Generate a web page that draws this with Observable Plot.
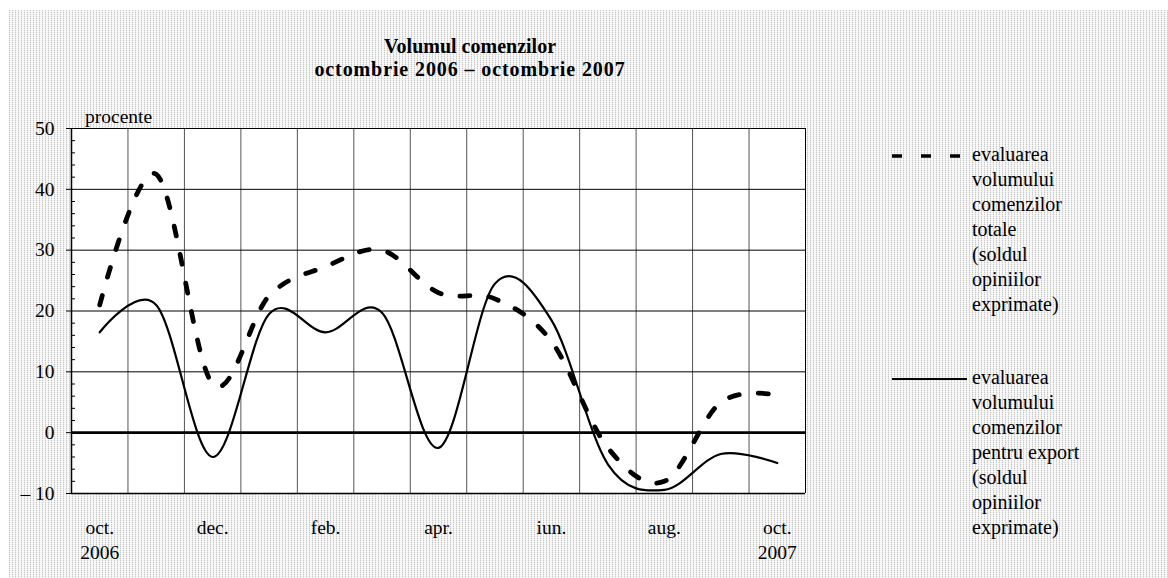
<!DOCTYPE html>
<html>
<head>
<meta charset="utf-8">
<script src="https://cdn.jsdelivr.net/npm/d3@7"></script>
<script src="https://cdn.jsdelivr.net/npm/@observablehq/plot@0.6"></script>
<style>
  html, body { margin: 0; padding: 0; background: #fff; }
  #wrap { position: relative; width: 1168px; height: 578px; overflow: hidden; font-family: "Liberation Serif", "Times New Roman", serif; color: #000; }
  #bg { position: absolute; left: 9px; top: 10px; right: 0; bottom: 0;
        background-color: #fff;
        background-image:
          repeating-linear-gradient(0deg, rgba(255,255,255,0.55) 0 1px, transparent 1px 2px),
          repeating-linear-gradient(90deg, #c9c9c9 0 1px, #f4f4f4 1px 3px); }
  #chart { position: absolute; left: 0; top: 0; }
  .title { position: absolute; left: 220px; width: 500px; text-align: center; font-weight: bold; font-size: 20px; line-height: 23px; top: 35px; }
  .title .l2 { letter-spacing: 0.9px; }
  .unit { position: absolute; left: 85px; top: 107px; font-size: 19.5px; line-height: 20px; }
  .leg { position: absolute; left: 892px; font-size: 20px; line-height: 25px; }
  .leg .txt { position: absolute; left: 80px; top: 0; white-space: nowrap; }
  .leg svg { position: absolute; left: 0; top: 0; }
</style>
</head>
<body>
<div id="wrap">
  <div id="bg"></div>
  <div id="chart"></div>
  <div class="title">Volumul comenzilor<br><span class="l2">octombrie 2006 – octombrie 2007</span></div>
  <div class="unit">procente</div>
  <div class="leg" id="leg1" style="top:142px"></div>
  <div class="leg" id="leg2" style="top:365px"></div>
</div>
<script>
// ---- data ----
const months = ["oct. 2006","nov.","dec.","ian.","feb.","mar.","apr.","mai","iun.","iul.","aug.","sep.","oct. 2007"];
const totale = [21, 42.5, 8, 22.5, 27.3, 30, 23, 22, 15, -2.5, -8, 5, 6.2];
const exportV = [16.5, 21, -4, 19.5, 16.5, 19.7, -2.5, 24.5, 18.5, -5.2, -9.4, -3.5, -5];
const xTickLabels = ["oct.\n2006", "dec.", "feb.", "apr.", "iun.", "aug.", "oct.\n2007"];
const yTicks = [-10, 0, 10, 20, 30, 40, 50];
const seriesNames = [
  "evaluarea\nvolumului\ncomenzilor\ntotale\n(soldul\nopiniilor\nexprimate)",
  "evaluarea\nvolumului\ncomenzilor\npentru export\n(soldul\nopiniilor\nexprimate)"
];

const data = months.map((m, i) => ({i, m, totale: totale[i], exp: exportV[i]}));
const xTicks = d3.range(0, months.length, 2);
const bandEdges = d3.range(0.5, months.length - 1, 1);
const minorTicks = d3.range(-10, 51, 2).filter(d => d % 10 !== 0);

const plot = Plot.plot({
  width: 1168, height: 578,
  marginLeft: 71, marginRight: 363, marginTop: 128, marginBottom: 85,
  style: {background: "transparent", fontFamily: "Liberation Serif, Times New Roman, serif", fontSize: "19.5px", color: "#000"},
  x: {domain: [-0.5, months.length - 0.5], label: null},
  y: {domain: [-10, 50], label: null},
  marks: [
    Plot.frame({fill: "white", stroke: null}),
    Plot.ruleX(bandEdges, {stroke: "#555", strokeWidth: 1}),
    Plot.ruleX([months.length - 0.5], {stroke: "#000", strokeWidth: 1}),
    Plot.ruleY(yTicks.filter(d => d !== 0 && d !== -10), {stroke: "#000", strokeWidth: 1}),
    Plot.ruleY([0], {stroke: "#000", strokeWidth: 2.6}),
    Plot.line(data, {x: "i", y: "exp", curve: "cardinal", stroke: "#000", strokeWidth: 2.2}),
    Plot.line(data, {x: "i", y: "totale", curve: "cardinal", stroke: "#000", strokeWidth: 4.8, strokeDasharray: "10,19"}),
    Plot.ruleX([-0.5], {stroke: "#000", strokeWidth: 1.5}),
    Plot.ruleY([-10], {stroke: "#000", strokeWidth: 1.5}),
    Plot.axisY({ticks: yTicks, tickSize: 5, tickPadding: 12, label: null, fontSize: 19.5,
      tickFormat: d => d < 0 ? "– " + (-d) : String(d)}),
    Plot.axisY({ticks: minorTicks, tickSize: -4, fill: "none", label: null}),
    Plot.axisX({ticks: xTicks, tickSize: 0, tickPadding: 23, label: null, fontSize: 19.5, lineHeight: 1.282,
      tickFormat: i => xTickLabels[i / 2]})
  ]
});
document.getElementById("chart").appendChild(plot);

// legend
function legend(el, name, dashed) {
  const svg = d3.create("svg").attr("width", 80).attr("height", 30);
  svg.append("line").attr("x1", 0).attr("x2", dashed ? 68 : 75).attr("y1", 14).attr("y2", 14)
    .attr("stroke", "#000").attr("stroke-width", dashed ? 3.5 : 2.2)
    .attr("stroke-dasharray", dashed ? "10,19" : null);
  el.appendChild(svg.node());
  const t = document.createElement("div");
  t.className = "txt";
  t.innerHTML = name.split("\n").join("<br>");
  el.appendChild(t);
}
legend(document.getElementById("leg1"), seriesNames[0], true);
legend(document.getElementById("leg2"), seriesNames[1], false);
</script>
</body>
</html>
